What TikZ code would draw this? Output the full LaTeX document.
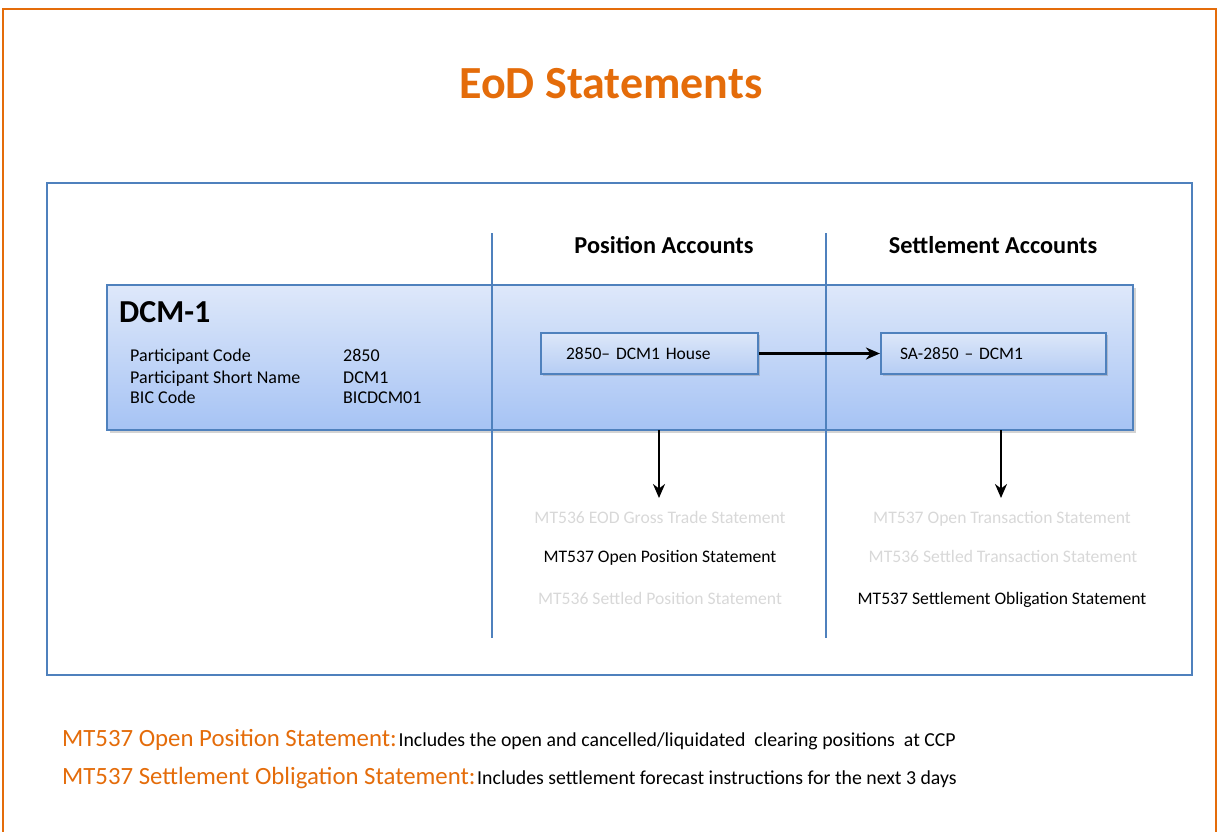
\documentclass[tikz,border=0pt]{standalone}
\usepackage{fontspec}
\setmainfont{Carlito}
\usetikzlibrary{arrows.meta,shadows}
\definecolor{orng}{HTML}{E46C0A}
\definecolor{bblue}{HTML}{4F81BD}
\definecolor{bandtop}{HTML}{DEE8FA}
\definecolor{bandbot}{HTML}{A6C3F4}
\definecolor{boxtop}{HTML}{DDE7F9}
\definecolor{boxbot}{HTML}{B5CDF4}
\definecolor{faint}{HTML}{D8D8D8}
\tikzset{
  acct/.style={draw=bblue, line width=2.2pt, top color=boxtop, bottom color=boxbot,
    minimum width=217pt, minimum height=41pt, text width=167pt, align=left, inner sep=0pt,
    drop shadow={shadow xshift=2pt, shadow yshift=-2pt, opacity=0.35},
    font=\fontsize{17.5}{20}\selectfont},
  stmt/.style={font=\fontsize{17.6}{20}\selectfont, inner sep=0pt, anchor=base},
  grey/.style={stmt, text=faint},
  blk/.style={stmt, text=black},
  hdr/.style={font=\bfseries\fontsize{24.3}{28}\selectfont, inner sep=0pt},
  info/.style={font=\fontsize{18}{20}\selectfont, anchor=base west, inner sep=0pt},
  flow/.style={-{Stealth[length=14pt,width=12pt]}, line width=2.2pt},
  divider/.style={draw=bblue, line width=2.4pt},
  note/.style={anchor=base west, inner sep=0pt}
}
\begin{document}
\begin{tikzpicture}[x=1pt,y=-1pt]
\useasboundingbox (0,0) rectangle (1219,832);
% outer orange frame
\draw[orng, line width=1.6pt] (3,840) -- (3,9) -- (1216,9) -- (1216,840);
% title
\node[text=orng, font=\bfseries\fontsize{46}{52}\selectfont, inner sep=0pt] (title) at (611,84) {EoD Statements};
% blue frame
\node[draw=bblue, line width=2.6pt, minimum width=1145pt, minimum height=492pt, inner sep=0pt] (frame) at (619.5,429) {};
% band
\node[draw=bblue, line width=2.2pt, top color=bandtop, bottom color=bandbot,
  minimum width=1026pt, minimum height=145pt, inner sep=0pt,
  drop shadow={shadow xshift=2.5pt, shadow yshift=-2.5pt, opacity=0.35}] (band) at (620,357.5) {};
% dividers
\coordinate (d1t) at (492,233); \coordinate (d1b) at (492,638);
\coordinate (d2t) at (826,233); \coordinate (d2b) at (826,638);
\draw[divider] (d1t) -- (d1b);
\draw[divider] (d2t) -- (d2b);
% headers
\node[hdr] (hpos) at (664,245) {Position Accounts};
\node[hdr] (hset) at (993,245) {Settlement Accounts};
% DCM-1
\node[font=\bfseries\fontsize{32}{36}\selectfont, anchor=west, inner sep=0pt] (dcm) at (119,312) {DCM-1};
\node[info] (l1) at (130,361) {Participant Code};
\node[info] (l2) at (130,383) {Participant Short Name};
\node[info] (l3) at (130,403) {BIC Code};
\node[info] (v1) at (343,361) {2850};
\node[info] (v2) at (343,383) {DCM1};
\node[info] (v3) at (343,403) {BICDCM01};
% account boxes
\node[acct] (pa) at (649.5,353.5) {2850-- DCM1 House};
\node[acct, minimum width=225pt, text width=187pt] (sa) at (993.5,353.5) {SA-2850 -- DCM1};
\draw[flow] (pa.east) -- (sa.west);
% down arrows
\coordinate (a1s) at (659,430); \coordinate (a1e) at (659,498);
\coordinate (a2s) at (1001,430); \coordinate (a2e) at (1001,498);
\draw[flow] (a1s) -- (a1e);
\draw[flow] (a2s) -- (a2e);
% statements
\node[grey] (s1) at (660,523) {MT536 EOD Gross Trade Statement};
\node[blk]  (s2) at (660,562) {MT537 Open Position Statement};
\node[grey] (s3) at (660,604) {MT536 Settled Position Statement};
\node[grey] (t1) at (1002,523) {MT537 Open Transaction Statement};
\node[grey] (t2) at (1003,562) {MT536 Settled Transaction Statement};
\node[blk]  (t3) at (1002,604) {MT537 Settlement Obligation Statement};
% notes
\node[note] (n1) at (62,746) {\textcolor{orng}{\fontsize{24.8}{28}\selectfont MT537 Open Position Statement:}\,{\fontsize{19.8}{22}\selectfont Includes the open and cancelled/liquidated\ \ clearing positions\ \ at CCP}};
\node[note] (n2) at (62,784) {\textcolor{orng}{\fontsize{24.8}{28}\selectfont MT537 Settlement Obligation Statement:}\,{\fontsize{19.8}{22}\selectfont Includes settlement\ forecast instructions\ for the next 3 days}};
\end{tikzpicture}
\end{document}
